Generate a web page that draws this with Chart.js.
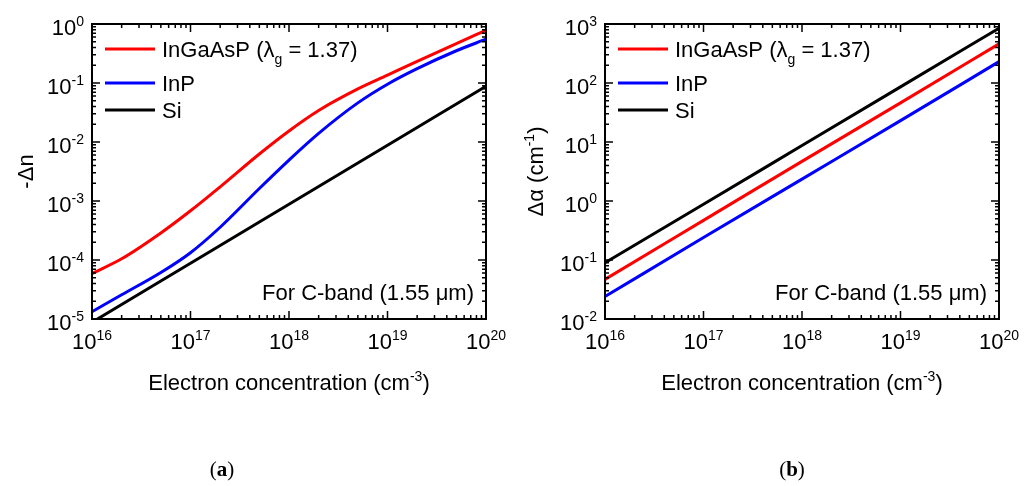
<!DOCTYPE html>
<html><head><meta charset="utf-8">
<script src="https://cdn.jsdelivr.net/npm/chart.js@4/dist/chart.umd.min.js"></script>
<style>
html,body{margin:0;padding:0;background:#fff;width:1032px;height:486px;overflow:hidden;}
.panel{position:absolute;top:0;width:516px;height:486px;}
.cap{position:absolute;top:459px;font-family:'Liberation Serif','Times New Roman',serif;font-size:21px;color:#000;transform:translateX(-50%);white-space:nowrap;line-height:1;}
</style></head><body>
<div class="panel" style="left:0"><canvas id="ca" width="516" height="486"></canvas></div>
<div class="panel" style="left:516px"><canvas id="cb" width="516" height="486"></canvas></div>
<div class="cap" style="left:222px">(<b>a</b>)</div>
<div class="cap" style="left:792px">(<b>b</b>)</div>
<script>
// ---------- data ----------
const concentration = [1e16, 2e16, 5e16, 1e17, 2e17, 5e17, 1e18, 2e18, 5e18, 1e19, 2e19, 5e19, 1e20];
const dnInGaAsP = [5.89e-5, 1.047e-4, 2.87e-4, 6.82e-4, 1.74e-3, 6.27e-3, 1.54e-2, 3.42e-2, 7.94e-2, 0.136, 0.233, 0.467, 0.78];
const dnInP     = [1.33e-5, 2.57e-5, 6.14e-5, 1.33e-4, 3.59e-4, 1.63e-3, 4.94e-3, 1.40e-2, 4.60e-2, 9.53e-2, 0.175, 0.352, 0.552];
const dnSi      = [8.8e-6, 1.76e-5, 4.4e-5, 8.8e-5, 1.76e-4, 4.4e-4, 8.8e-4, 1.76e-3, 4.4e-3, 8.8e-3, 1.76e-2, 4.4e-2, 8.8e-2];

const concLine  = [1e16, 1e17, 1e18, 1e19, 1e20];
const daInGaAsP = [0.047, 0.47, 4.7, 46, 460];
const daInP     = [0.024, 0.24, 2.35, 23, 230];
const daSi      = [0.09, 0.88, 8.7, 86, 850];

const seriesNames = ['InGaAsP', 'InP', 'Si'];
const seriesColors = ['#ff0000', '#0000ff', '#000000'];
const xTickExponents = [16, 17, 18, 19, 20];
const yTickExponentsA = [-5, -4, -3, -2, -1, 0];
const yTickExponentsB = [-2, -1, 0, 1, 2, 3];
const noteText = 'For C-band (1.55 \u03bcm)';

// ---------- drawing helpers ----------
const FONT = "'Liberation Sans', Arial, Helvetica, sans-serif";
const FS = 22;
function richText(ctx, parts, x, y, align, size) {
  const small = Math.round(size * 0.64);
  let w = 0;
  const ms = parts.map(p => {
    ctx.font = (p[1] ? small : size) + 'px ' + FONT;
    const m = ctx.measureText(p[0]).width; w += m; return m;
  });
  let cx = align === 'center' ? x - w / 2 : align === 'right' ? x - w : x;
  ctx.textAlign = 'left'; ctx.textBaseline = 'alphabetic';
  parts.forEach((p, i) => {
    ctx.font = (p[1] ? small : size) + 'px ' + FONT;
    const dy = p[1] === 1 ? -size * 0.42 : p[1] === -1 ? size * 0.3 : 0;
    ctx.fillText(p[0], cx, y + dy);
    cx += ms[i];
  });
}
function logTicks(ctx, scale, area, horizontal) {
  const minE = Math.round(Math.log10(scale.min)), maxE = Math.round(Math.log10(scale.max));
  ctx.lineWidth = 1.5;
  for (let e = minE; e <= maxE; e++) {
    for (let m = 1; m < 10; m++) {
      if (e === maxE && m > 1) break;
      const p = scale.getPixelForValue(m * Math.pow(10, e));
      const len = m === 1 ? 8 : 4;
      ctx.beginPath();
      if (horizontal) {
        ctx.moveTo(p, area.bottom); ctx.lineTo(p, area.bottom - len);
        ctx.moveTo(p, area.top); ctx.lineTo(p, area.top + len);
      } else {
        ctx.moveTo(area.left, p); ctx.lineTo(area.left + len, p);
        ctx.moveTo(area.right, p); ctx.lineTo(area.right - len, p);
      }
      ctx.stroke();
    }
  }
}
function decorPlugin(yExps, yTitleParts, yTitleX) {
  return {
    id: 'decor',
    afterDraw(chart) {
      const ctx = chart.ctx, a = chart.chartArea;
      const xs = chart.scales.x, ys = chart.scales.y;
      ctx.save();
      ctx.strokeStyle = '#000'; ctx.fillStyle = '#000';
      ctx.lineWidth = 2;
      ctx.strokeRect(a.left, a.top, a.right - a.left, a.bottom - a.top);
      logTicks(ctx, xs, a, true);
      logTicks(ctx, ys, a, false);
      xTickExponents.forEach(e => {
        const px = xs.getPixelForValue(Math.pow(10, e));
        richText(ctx, [['10', 0], [String(e), 1]], px, a.bottom + 30, 'center', FS);
      });
      yExps.forEach(e => {
        const py = ys.getPixelForValue(Math.pow(10, e));
        richText(ctx, [['10', 0], [String(e), 1]], a.left - 8, py + 11, 'right', FS);
      });
      richText(ctx, [['Electron concentration (cm', 0], ['-3', 1], [')', 0]], (a.left + a.right) / 2, 390, 'center', FS);
      ctx.save();
      ctx.translate(yTitleX, (a.top + a.bottom) / 2);
      ctx.rotate(-Math.PI / 2);
      richText(ctx, yTitleParts, 0, 0, 'center', FS);
      ctx.restore();
      const rows = [a.top + 25, a.top + 59, a.top + 86];
      seriesNames.forEach((n, i) => {
        ctx.strokeStyle = seriesColors[i]; ctx.lineWidth = 3;
        ctx.beginPath(); ctx.moveTo(a.left + 13, rows[i]); ctx.lineTo(a.left + 63, rows[i]); ctx.stroke();
        const parts = i === 0 ? [[n + ' (\u03bb', 0], ['g', -1], [' = 1.37)', 0]] : [[n, 0]];
        richText(ctx, parts, a.left + 70, rows[i] + 8, 'left', FS);
      });
      richText(ctx, [[noteText, 0]], a.right - 12, 300, 'right', FS);
      ctx.restore();
    }
  };
}
function makeChart(id, xs, series, yMin, yMax, pad, plugin) {
  return new Chart(document.getElementById(id), {
    type: 'line',
    data: {
      datasets: series.map((s, i) => ({
        label: seriesNames[i],
        data: xs.map((x, j) => ({ x: x, y: s[j] })),
        borderColor: seriesColors[i],
        borderWidth: 3,
        pointRadius: 0,
        cubicInterpolationMode: 'monotone',
        fill: false,
        clip: 1
      }))
    },
    options: {
      responsive: false,
      animation: false,
      devicePixelRatio: 1,
      layout: { padding: pad },
      plugins: { legend: { display: false }, tooltip: { enabled: false }, title: { display: false } },
      scales: {
        x: { type: 'logarithmic', min: 1e16, max: 1e20, display: false },
        y: { type: 'logarithmic', min: yMin, max: yMax, display: false }
      }
    },
    plugins: [plugin]
  });
}
makeChart('ca', concentration, [dnInGaAsP, dnInP, dnSi], 1e-5, 1, { left: 92, right: 30, top: 24, bottom: 167 },
  decorPlugin(yTickExponentsA, [['-\u0394n', 0]], 33));
makeChart('cb', concLine, [daInGaAsP, daInP, daSi], 1e-2, 1e3, { left: 89, right: 33, top: 24, bottom: 167 },
  decorPlugin(yTickExponentsB, [['\u0394\u03b1 (cm', 0], ['-1', 1], [')', 0]], 27));
</script>
</body></html>
